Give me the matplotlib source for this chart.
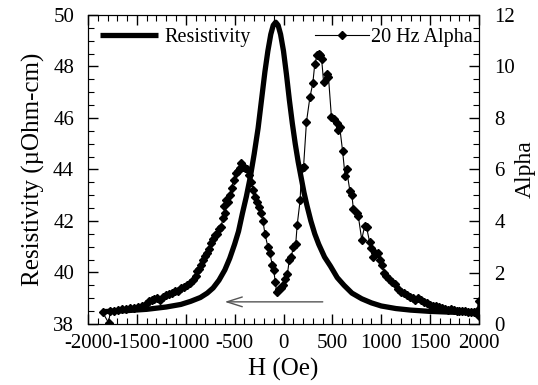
import matplotlib
matplotlib.use("Agg")
import matplotlib.pyplot as plt
from matplotlib.ticker import MultipleLocator

plt.rcParams['font.family'] = ['Liberation Serif', 'DejaVu Serif']
plt.rcParams['axes.unicode_minus'] = False

# resistivity curve (H in Oe, rho in uOhm-cm)
h_res = [-1850, -1600, -1400, -1200, -1050, -950, -850, -780, -720, -660, -600, -550,
         -500, -460, -420, -380, -340, -300, -260, -225, -190, -160, -130, -105, -80,
         -55, -30, 0, 30, 60, 90, 120, 150, 180, 210, 240, 280, 320, 360, 420, 480,
         550, 620, 700, 800, 900, 1000, 1150, 1300, 1500, 1700, 1900, 2000]
rho = [38.48, 38.52, 38.57, 38.66, 38.76, 38.88, 39.03, 39.2, 39.4, 39.7, 40.1, 40.55,
       41.1, 41.6, 42.3, 42.95, 43.7, 44.6, 45.6, 46.7, 47.8, 48.6, 49.25, 49.6, 49.72,
       49.6, 49.25, 48.6, 47.7, 46.7, 45.8, 45.0, 44.3, 43.7, 43.1, 42.6, 42.0, 41.5,
       41.1, 40.6, 40.25, 39.8, 39.5, 39.2, 38.98, 38.82, 38.7, 38.6, 38.54, 38.49,
       38.46, 38.44, 38.44]

# 20 Hz alpha
h_alpha = [-1850, -1790, -1770, -1730, -1690, -1650, -1610, -1570, -1530, -1490, -1450,
           -1410, -1380, -1350, -1320, -1290, -1260, -1230, -1200, -1170, -1140, -1110,
           -1080, -1050, -1020, -990, -960, -930, -900, -880, -860, -840, -820, -800,
           -780, -760, -740, -720, -700, -680, -660, -640, -620, -600, -610, -590, -570,
           -550, -530, -510, -490, -470, -450, -430, -410, -390, -370, -350, -330, -310,
           -290, -270, -250, -230, -210, -190, -160, -140, -115, -100, -85, -70, -50,
           -30, -5, 20, 40, 60, 80, 100, 125, 140, 170, 185, 205, 235, 270, 300, 320,
           345, 360, 375, 390, 410, 445, 460, 490, 515, 545, 555, 575, 605, 630, 645,
           680, 700, 715, 750, 765, 800, 830, 850, 880, 900, 915, 940, 965, 985, 1005,
           1030, 1050, 1080, 1110, 1140, 1170, 1200, 1230, 1260, 1290, 1320, 1350, 1380,
           1410, 1440, 1470, 1500, 1530, 1560, 1590, 1620, 1650, 1680, 1710, 1740, 1770,
           1800, 1830, 1860, 1890, 1920, 1950, 1980, 1995, 2000]
alpha = [0.45, 0.05, 0.5, 0.52, 0.55, 0.6, 0.58, 0.62, 0.64, 0.66, 0.7,
         0.78, 0.9, 0.95, 0.98, 1.0, 0.95, 1.05, 1.12, 1.18, 1.2, 1.28,
         1.3, 1.38, 1.45, 1.5, 1.58, 1.7, 1.85, 2.05, 2.15, 2.3, 2.5, 2.65,
         2.75, 2.9, 3.15, 3.3, 3.45, 3.5, 3.7, 3.75, 4.1, 4.3, 4.6, 4.8, 4.75,
         5.0, 5.3, 5.6, 5.85, 5.95, 6.05, 6.25, 6.1, 6.05, 6.0, 5.8, 5.5, 5.2,
         4.95, 4.75, 4.55, 4.3, 4.0, 3.5, 3.0, 2.75, 2.3, 2.1, 1.65, 1.25, 1.35,
         1.4, 1.5, 1.75, 1.95, 2.5, 2.6, 3.0, 3.1, 3.85, 4.8, 6.05, 6.1, 7.85, 8.8, 9.35, 10.1,
         10.45, 10.5, 10.45, 10.3, 9.4, 9.7, 9.6, 8.05, 7.95, 7.8, 7.55, 7.65, 6.7, 5.75, 6.0,
         5.15, 5.0, 4.45, 4.3, 4.2, 3.28, 3.8, 3.75, 3.2, 2.95, 2.6, 2.75, 2.75, 2.5, 2.3,
         2.0, 1.85, 1.75, 1.65, 1.55, 1.35, 1.25, 1.2, 1.12, 1.05, 1.0, 0.95, 1.0,
         0.92, 0.85, 0.8, 0.75, 0.7, 0.68, 0.65, 0.62, 0.6, 0.56, 0.58, 0.54, 0.52,
         0.52, 0.5, 0.5, 0.48, 0.48, 0.48, 0.5, 0.9, 0.3]

fig = plt.figure(figsize=(5.38, 3.85), dpi=100)
ax = fig.add_axes([88/538, 1 - 324/385, (479 - 88)/538, (324 - 15)/385])
ax2 = ax.twinx()

l1, = ax.plot(h_res, rho, color='black', lw=3.8, solid_capstyle='butt', label='Resistivity')
l2, = ax2.plot(h_alpha, alpha, color='black', lw=0.8, marker='D', ms=4.2,
               label='20 Hz Alpha')

# sweep direction arrow
ax.annotate('', xy=(-630, 38.86), xytext=(430, 38.86),
            arrowprops=dict(arrowstyle='->,head_length=1.1,head_width=0.35',
                            color='#555555', lw=1.0))

ax.set_xlim(-2000, 2000)
ax.set_ylim(38, 50)
ax2.set_ylim(0, 12)

ax.xaxis.set_major_locator(MultipleLocator(500))
ax.xaxis.set_minor_locator(MultipleLocator(100))
ax.yaxis.set_major_locator(MultipleLocator(2))
ax.yaxis.set_minor_locator(MultipleLocator(0.5))
ax2.yaxis.set_major_locator(MultipleLocator(2))
ax2.yaxis.set_minor_locator(MultipleLocator(0.5))

ax.tick_params(which='both', direction='in', top=True, right=False, labelsize=15)
ax.tick_params(axis='y', pad=10)
ax.tick_params(axis='x', pad=7)
ax.tick_params(which='major', length=7, width=1)
ax.tick_params(which='minor', length=4, width=0.8)
ax2.tick_params(which='both', direction='in', labelsize=15, pad=11)
ax2.tick_params(which='major', length=7, width=1)
ax2.tick_params(which='minor', length=4, width=0.8)

ax.set_xlabel('H (Oe)', fontsize=18, labelpad=4)
ax.set_ylabel('Resistivity (µOhm-cm)', fontsize=18, labelpad=6)
ax2.set_ylabel('Alpha', fontsize=17, labelpad=0)

ax.legend(handles=[l1], loc='upper left', frameon=False, fontsize=14.5,
          handlelength=2.9, borderaxespad=0.0, handletextpad=0.3,
          bbox_to_anchor=(0.01, 0.985))
ax2.legend(handles=[l2], loc='upper right', frameon=False, fontsize=14.5,
           handlelength=2.7, borderaxespad=0.0, handletextpad=0.1, numpoints=1,
           bbox_to_anchor=(1.005, 0.985))

fig.savefig('out.png', dpi=100)
